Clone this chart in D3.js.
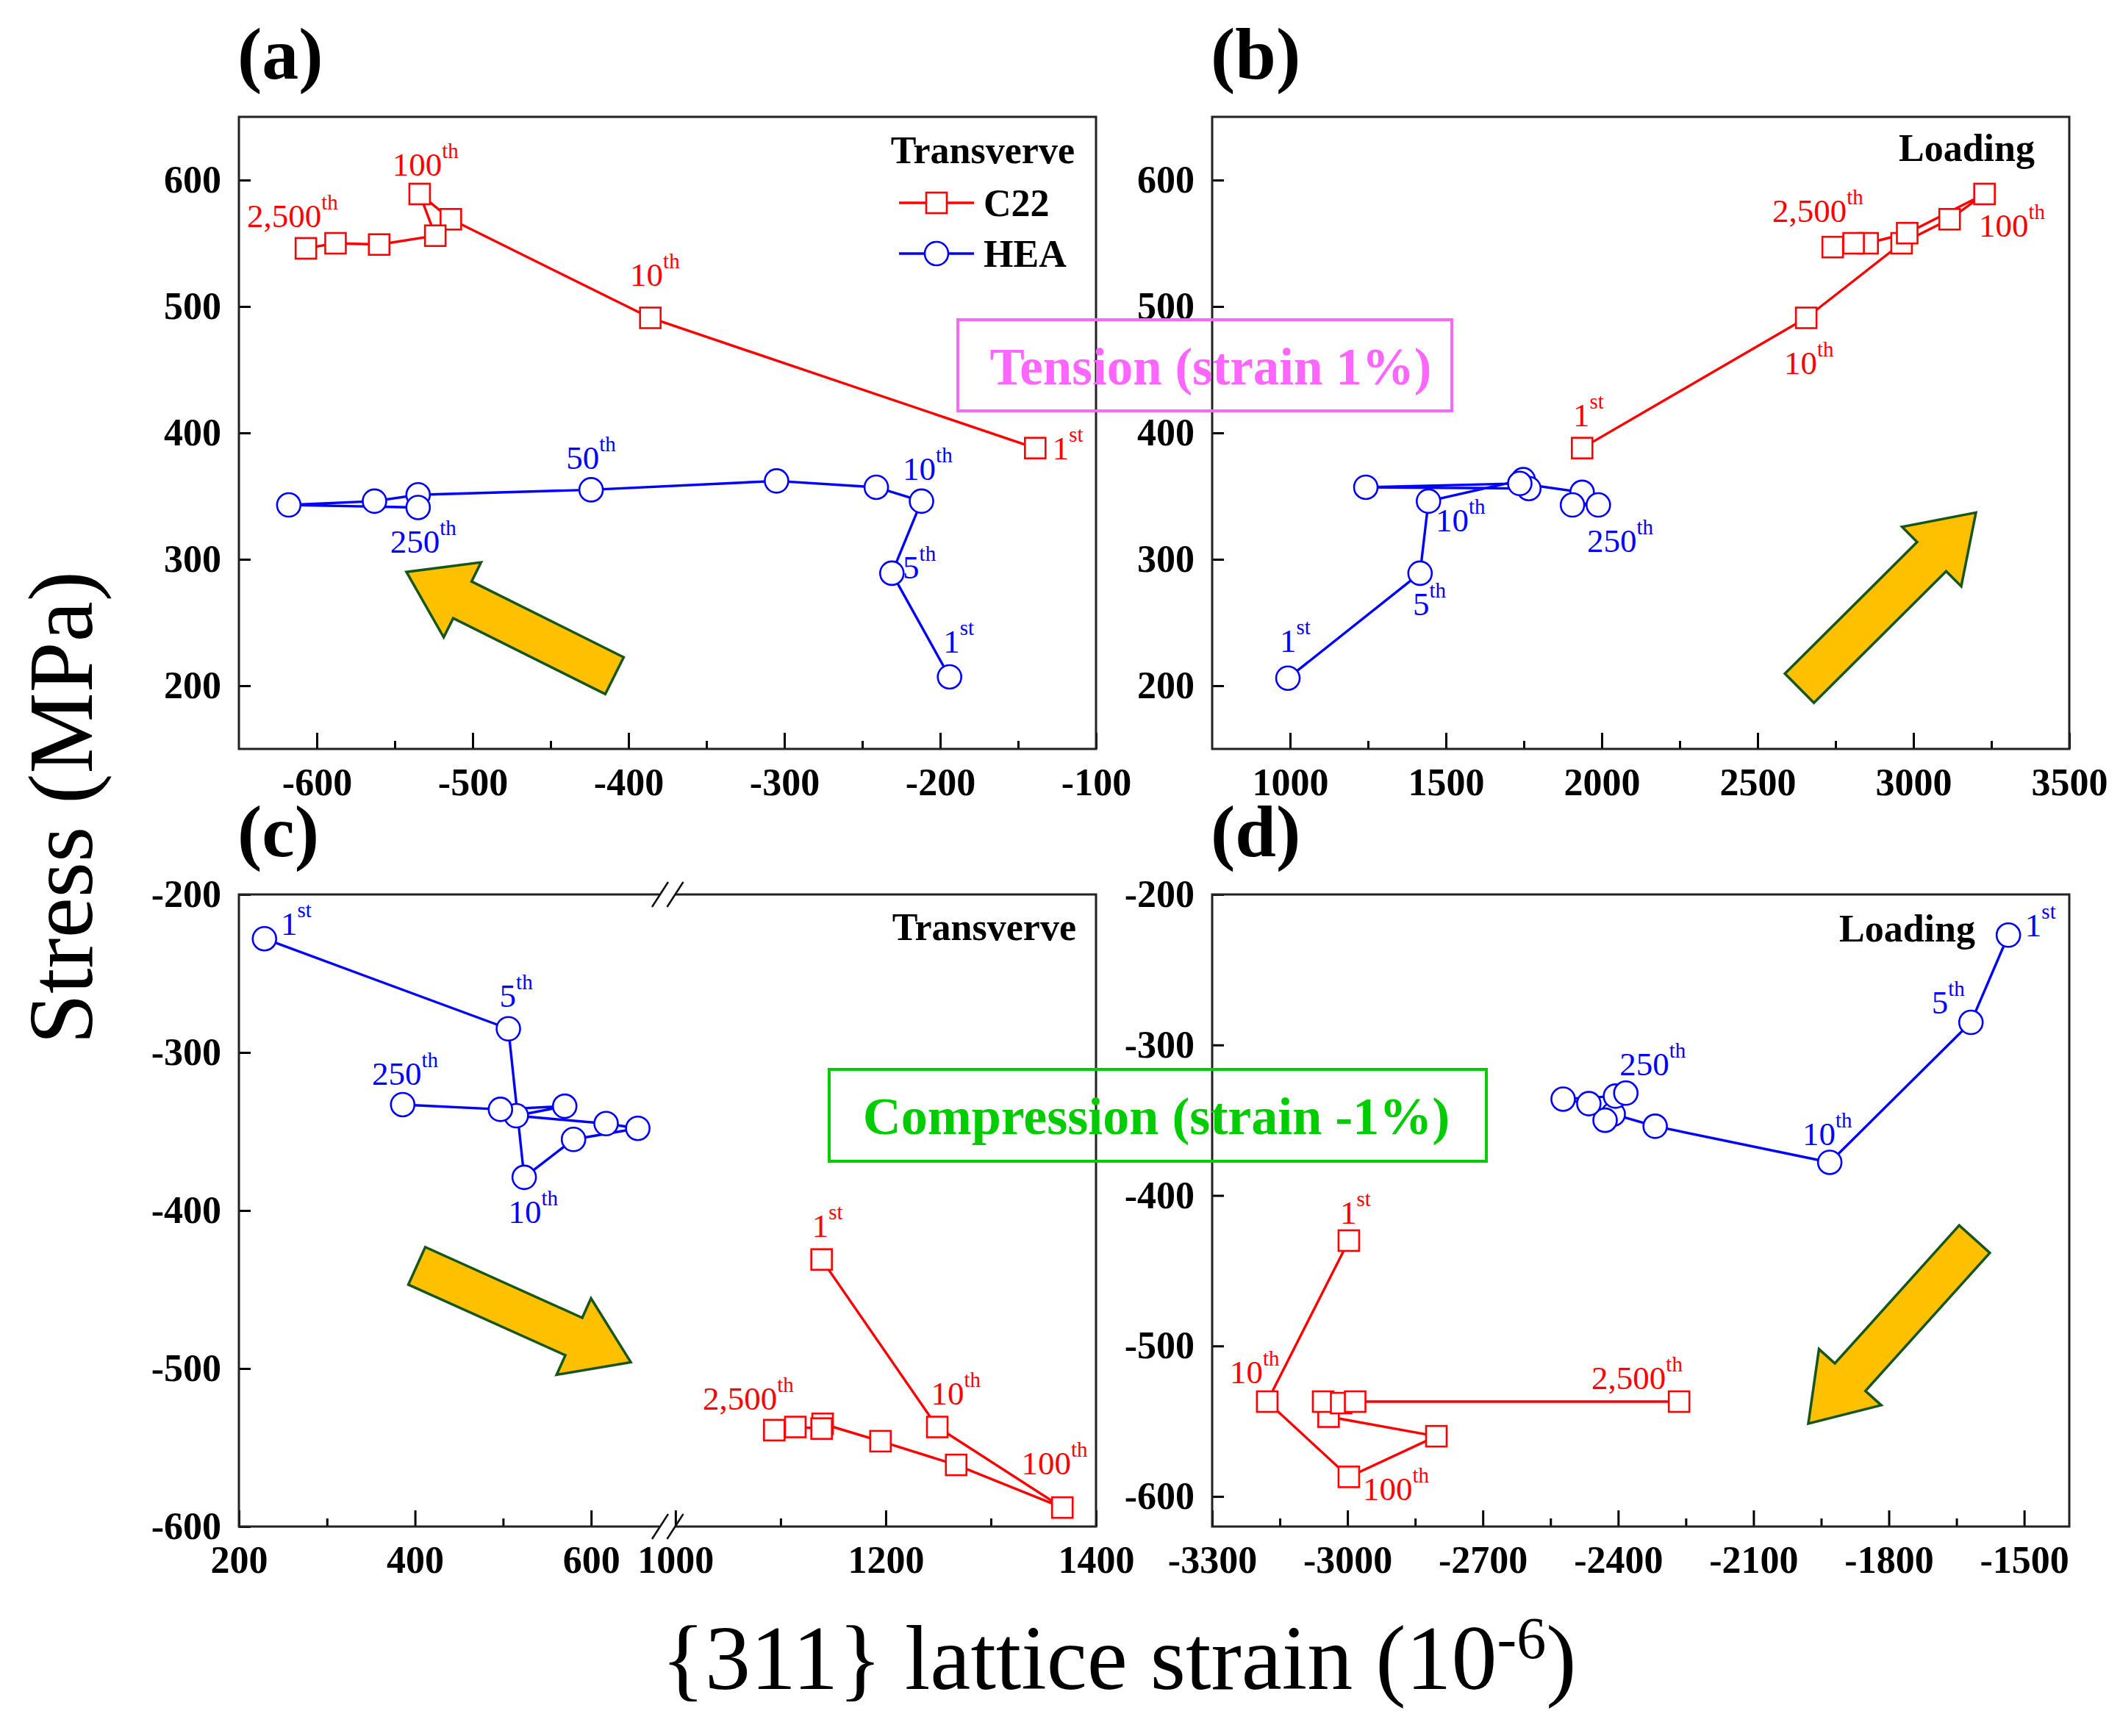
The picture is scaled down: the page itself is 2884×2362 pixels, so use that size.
<!DOCTYPE html>
<html><head><meta charset="utf-8">
<script src="https://cdn.jsdelivr.net/npm/d3@7"></script>
<style>html,body{margin:0;padding:0;background:#fff}svg{display:block}</style>
</head><body>
<script>
// ---------------- DATA ----------------
// Panel (a): tension, transverse
const aC22X = [-139, -386, -514, -534, -524, -560, -588, -607];
const aC22Y = [388, 491, 569, 589, 556, 549, 550, 546];
const aHEAX = [-194, -231, -212, -241, -305, -424, -535, -563, -618, -535];
const aHEAY = [207, 289, 346, 357, 362, 355, 351, 346, 343, 341];
// Panel (b): tension, loading
const bC22X = [1937, 2656, 2962, 3116, 3228, 2980, 2853, 2808, 2741];
const bC22Y = [388, 491, 550, 569, 589, 558, 550, 550, 547];
const bHEAX = [993, 1417, 1444, 1748, 1766, 1243, 1737, 1937, 1906, 1989];
const bHEAY = [206, 289, 346, 363, 356, 357, 360, 353, 343, 343];
// Panel (c): compression, transverse
const cHEAX = [229, 506, 524, 580, 653, 617, 515, 570, 497, 386];
const cHEAY = [-228, -285, -379, -355, -348, -345, -340, -334, -336, -333];
const cC22X = [1139, 1249, 1368, 1267, 1195, 1140, 1139, 1114, 1094];
const cC22Y = [-431, -537, -588, -561, -546, -535, -538, -537, -539];
// Panel (d): compression, loading
const dHEAX = [-1535, -1618, -1931, -2318, -2411, -2429, -2465, -2522, -2406, -2383];
const dHEAY = [-227, -285, -378, -354, -346, -350, -339, -336, -334, -332];
const dC22X = [-2997, -3178, -2997, -2803, -3042, -3054, -3014, -2983, -2265];
const dC22Y = [-430, -537, -587, -560, -547, -537, -538, -537, -537];

// Tick labels
const aXTicks = [-600, -500, -400, -300, -200, -100];
const aXMinor = [-550, -450, -350, -250, -150];
const bXTicks = [1000, 1500, 2000, 2500, 3000, 3500];
const bXMinor = [1250, 1750, 2250, 2750, 3250];
const cXTicks = [200, 400, 600, 1000, 1200, 1400];
const cXMinor = [300, 500, 1100, 1300];
const dXTicks = [-3300, -3000, -2700, -2400, -2100, -1800, -1500];
const dXMinor = [-3150, -2850, -2550, -2250, -1950, -1650];
const tensionYTicks = [200, 300, 400, 500, 600];
const compressionYTicks = [-600, -500, -400, -300, -200];

// Cycle annotations: [number, suffix, x, y, series]
const aLabels = [["100","th",-551.5,603.5,"C22"],["2,500","th",-644.8,562.8,"C22"],["10","th",-399,516,"C22"],["1","st",-128,379,"C22"],
  ["50","th",-440,371.5,"HEA"],["10","th",-224,363,"HEA"],["250","th",-553,305,"HEA"],["5","th",-224,285,"HEA"],["1","st",-198,226,"HEA"]];
const bLabels = [["2,500","th",2547,567,"C22"],["100","th",3210,555,"C22"],["10","th",2585,446.5,"C22"],["1","st",1908,405,"C22"],
  ["10","th",1467,322,"HEA"],["250","th",1953,306,"HEA"],["5","th",1394,256,"HEA"],["1","st",967,227,"HEA"]];
const cLabels = [["1","st",247.5,-225.6,"HEA"],["5","th",496,-271,"HEA"],["250","th",351,-320.5,"HEA"],["10","th",506,-408,"HEA"],
  ["1","st",1130,-416.7,"C22"],["10","th",1243,-522.8,"C22"],["2,500","th",1026,-526,"C22"],["100","th",1329,-567,"C22"]];
const dLabels = [["1","st",-1498,-227.8,"HEA"],["5","th",-1705,-279,"HEA"],["250","th",-2397,-320,"HEA"],["10","th",-1991.5,-366.5,"HEA"],
  ["1","st",-3016.5,-418.8,"C22"],["10","th",-3261,-525,"C22"],["2,500","th",-2459,-528.7,"C22"],["100","th",-2966,-602.5,"C22"]];

// Trend arrows: [tail, tip] in data units
const aArrow = [[-409, 208], [-542.5, 290]];
const bArrow = [[2634, 198], [3200.5, 337]];
const cArrow = [[402, -435], [645, -496]];
const dArrow = [[-1610, -429], [-1978.5, -551.6]];

const seriesNames = ["C22", "HEA"];
const panelNotes = ["Transverve", "Loading", "Transverve", "Loading"];

// ---------------- LAYOUT / STYLE ----------------
const W = 2884, H = 2362;
const PW = 1166, PH = 860;
const FONT = "'Liberation Serif','Times New Roman',Times,serif";
const COLORS = {C22: "#ff0000", HEA: "#0000ff"};

const svg = d3.select("body").append("svg")
  .attr("width", W).attr("height", H).attr("viewBox", `0 0 ${W} ${H}`);
svg.append("rect").attr("width", W).attr("height", H).attr("fill", "#fff");

const panels = [
  {tag:"(a)", x0:325, y0:159, xs:d3.scaleLinear().domain([-650,-100]).range([325,325+PW]),
   ys:d3.scaleLinear().domain([150,650]).range([159+PH,159]), xt:aXTicks, xm:aXMinor, yt:tensionYTicks,
   C22:[aC22X,aC22Y], HEA:[aHEAX,aHEAY], labels:aLabels, arrow:aArrow, note:panelNotes[0], noteDx:29, noteDy:63, brk:false},
  {tag:"(b)", x0:1649, y0:159, xs:d3.scaleLinear().domain([750,3500]).range([1649,1649+PW]),
   ys:d3.scaleLinear().domain([150,650]).range([159+PH,159]), xt:bXTicks, xm:bXMinor, yt:tensionYTicks,
   C22:[bC22X,bC22Y], HEA:[bHEAX,bHEAY], labels:bLabels, arrow:bArrow, note:panelNotes[1], noteDx:47, noteDy:60, brk:false},
  {tag:"(c)", x0:325, y0:1217, xs:d3.scaleLinear().domain([200,680,998,1400]).range([325,900,916,325+PW]),
   ys:d3.scaleLinear().domain([-600,-200]).range([1217+PH,1217]), xt:cXTicks, xm:cXMinor, yt:compressionYTicks,
   C22:[cC22X,cC22Y], HEA:[cHEAX,cHEAY], labels:cLabels, arrow:cArrow, note:panelNotes[2], noteDx:27, noteDy:62, brk:true},
  {tag:"(d)", x0:1649, y0:1217, xs:d3.scaleLinear().domain([-3300,-1400]).range([1649,1649+PW]),
   ys:d3.scaleLinear().domain([-620,-200]).range([1217+PH,1217]), xt:dXTicks, xm:dXMinor, yt:compressionYTicks,
   C22:[dC22X,dC22Y], HEA:[dHEAX,dHEAY], labels:dLabels, arrow:dArrow, note:panelNotes[3], noteDx:128, noteDy:64, brk:false}
];

function arrowPath(tail, tip, sw, hw, hl) {
  const dx = tip[0]-tail[0], dy = tip[1]-tail[1];
  const L = Math.hypot(dx, dy), ux = dx/L, uy = dy/L, nx = -uy, ny = ux;
  const bx = tip[0]-ux*hl, by = tip[1]-uy*hl;
  const p = [
    [tail[0]+nx*sw/2, tail[1]+ny*sw/2],
    [bx+nx*sw/2, by+ny*sw/2],
    [bx+nx*hw/2, by+ny*hw/2],
    tip,
    [bx-nx*hw/2, by-ny*hw/2],
    [bx-nx*sw/2, by-ny*sw/2],
    [tail[0]-nx*sw/2, tail[1]-ny*sw/2]
  ];
  return "M" + p.map(q => q[0].toFixed(1)+","+q[1].toFixed(1)).join("L") + "Z";
}

panels.forEach(p => {
  const g = svg.append("g");
  const x1 = p.x0 + PW, y1 = p.y0 + PH;

  // panel tag
  g.append("text").attr("x", p.x0 - 2).attr("y", p.y0 - 52)
    .attr("font-family", FONT).attr("font-weight", "bold").attr("font-size", 100)
    .text(p.tag);

  // x axis ticks (inward)
  const xAxis = d3.axisBottom(p.xs).tickValues(p.xt).tickSizeInner(-22).tickSizeOuter(0)
    .tickPadding(26).tickFormat(d => String(d));
  const gx = g.append("g").attr("transform", `translate(0,${y1})`).call(xAxis);
  gx.select(".domain").remove();
  gx.selectAll("line").attr("stroke", "#000").attr("stroke-width", 3);
  gx.selectAll("text").attr("font-family", FONT).attr("font-weight", "bold").attr("font-size", 52).attr("fill", "#000");
  const xMin = d3.axisBottom(p.xs).tickValues(p.xm).tickSizeInner(-11).tickSizeOuter(0).tickFormat("");
  const gxm = g.append("g").attr("transform", `translate(0,${y1})`).call(xMin);
  gxm.select(".domain").remove();
  gxm.selectAll("line").attr("stroke", "#000").attr("stroke-width", 3);

  // y axis ticks (inward)
  const yAxis = d3.axisLeft(p.ys).tickValues(p.yt).tickSizeInner(-16).tickSizeOuter(0)
    .tickPadding(24).tickFormat(d => String(d));
  const gy = g.append("g").attr("transform", `translate(${p.x0},0)`).call(yAxis);
  gy.select(".domain").remove();
  gy.selectAll("line").attr("stroke", "#000").attr("stroke-width", 3);
  gy.selectAll("text").attr("font-family", FONT).attr("font-weight", "bold").attr("font-size", 52).attr("fill", "#000");

  // frame
  if (!p.brk) {
    g.append("rect").attr("x", p.x0).attr("y", p.y0).attr("width", PW).attr("height", PH)
      .attr("fill", "none").attr("stroke", "#222").attr("stroke-width", 3);
  } else {
    const gapL = 897, gapR = 919;
    const fr = g.append("g").attr("stroke", "#222").attr("stroke-width", 3).attr("fill", "none");
    fr.append("path").attr("d", `M${gapL},${p.y0}H${p.x0}V${y1}H${gapL}`);
    fr.append("path").attr("d", `M${gapR},${p.y0}H${x1}V${y1}H${gapR}`);
    [p.y0, y1].forEach(yy => {
      [898, 918.5].forEach(xx => {
        g.append("line").attr("x1", xx-11).attr("y1", yy+17).attr("x2", xx+11).attr("y2", yy-17)
          .attr("stroke", "#111").attr("stroke-width", 2.5);
      });
    });
  }

  // trend arrow
  const tail = [p.xs(p.arrow[0][0]), p.ys(p.arrow[0][1])];
  const tip = [p.xs(p.arrow[1][0]), p.ys(p.arrow[1][1])];
  g.append("path").attr("d", arrowPath(tail, tip, 56, 114, 85))
    .attr("fill", "#ffc000").attr("stroke", "#16561a").attr("stroke-width", 3.5).attr("stroke-linejoin", "miter");

  // series
  seriesNames.forEach(name => {
    const [xs, ys] = p[name];
    const pts = xs.map((v, i) => [p.xs(v), p.ys(ys[i])]);
    g.append("path").attr("d", d3.line()(pts)).attr("fill", "none")
      .attr("stroke", COLORS[name]).attr("stroke-width", 3.4).attr("stroke-linejoin", "round");
    if (name === "C22") {
      g.selectAll(null).data(pts).enter().append("rect")
        .attr("x", d => d[0]-14).attr("y", d => d[1]-14).attr("width", 28).attr("height", 28)
        .attr("fill", "#fff").attr("stroke", COLORS[name]).attr("stroke-width", 2.6);
    } else {
      g.selectAll(null).data(pts).enter().append("circle")
        .attr("cx", d => d[0]).attr("cy", d => d[1]).attr("r", 16)
        .attr("fill", "#fff").attr("stroke", COLORS[name]).attr("stroke-width", 2.6);
    }
  });

  // cycle annotations
  p.labels.forEach(l => {
    const t = g.append("text").attr("x", p.xs(l[2])).attr("y", p.ys(l[3]))
      .attr("font-family", FONT).attr("font-size", 45).attr("fill", COLORS[l[4]]);
    t.append("tspan").text(l[0]);
    t.append("tspan").attr("font-size", 29).attr("dy", -24).text(l[1]);
  });

  // note
  g.append("text").attr("x", x1 - p.noteDx).attr("y", p.y0 + p.noteDy).attr("text-anchor", "end")
    .attr("font-family", FONT).attr("font-weight", "bold").attr("font-size", 52).text(p.note);
});

// legend in panel (a)
const legY = [276, 345];
seriesNames.forEach((name, i) => {
  const lg = svg.append("g");
  lg.append("line").attr("x1", 1223).attr("x2", 1325).attr("y1", legY[i]).attr("y2", legY[i])
    .attr("stroke", COLORS[name]).attr("stroke-width", 3.4);
  if (name === "C22") {
    lg.append("rect").attr("x", 1274-14).attr("y", legY[i]-14).attr("width", 28).attr("height", 28)
      .attr("fill", "#fff").attr("stroke", COLORS[name]).attr("stroke-width", 2.6);
  } else {
    lg.append("circle").attr("cx", 1274).attr("cy", legY[i]).attr("r", 16)
      .attr("fill", "#fff").attr("stroke", COLORS[name]).attr("stroke-width", 2.6);
  }
  lg.append("text").attr("x", 1338).attr("y", legY[i] + 18)
    .attr("font-family", FONT).attr("font-weight", "bold").attr("font-size", 52).text(name);
});

// Tension / Compression boxes
svg.append("rect").attr("x", 1303).attr("y", 435).attr("width", 672).attr("height", 124)
  .attr("fill", "none").attr("stroke", "#ff66ff").attr("stroke-width", 4);
svg.append("text").attr("x", 1647).attr("y", 523).attr("text-anchor", "middle")
  .attr("font-family", FONT).attr("font-weight", "bold").attr("font-size", 71).attr("fill", "#ff66ff")
  .text("Tension (strain 1%)");
svg.append("rect").attr("x", 1128).attr("y", 1455).attr("width", 894).attr("height", 125)
  .attr("fill", "none").attr("stroke", "#00cc00").attr("stroke-width", 4);
svg.append("text").attr("x", 1573).attr("y", 1543).attr("text-anchor", "middle")
  .attr("font-family", FONT).attr("font-weight", "bold").attr("font-size", 72).attr("fill", "#00cc00")
  .text("Compression (strain -1%)");

// axis titles
svg.append("text").attr("transform", "translate(125,1099) rotate(-90)").attr("text-anchor", "middle")
  .attr("font-family", FONT).attr("font-size", 124).attr("fill", "#000").text("Stress (MPa)");
const xt = svg.append("text").attr("x", 1522).attr("y", 2298).attr("text-anchor", "middle")
  .attr("font-family", FONT).attr("font-size", 124).attr("fill", "#000");
xt.append("tspan").text("{311} lattice strain (10");
xt.append("tspan").attr("font-size", 80).attr("dy", -42).text("-6");
xt.append("tspan").attr("dy", 42).text(")");
</script>
</body></html>
